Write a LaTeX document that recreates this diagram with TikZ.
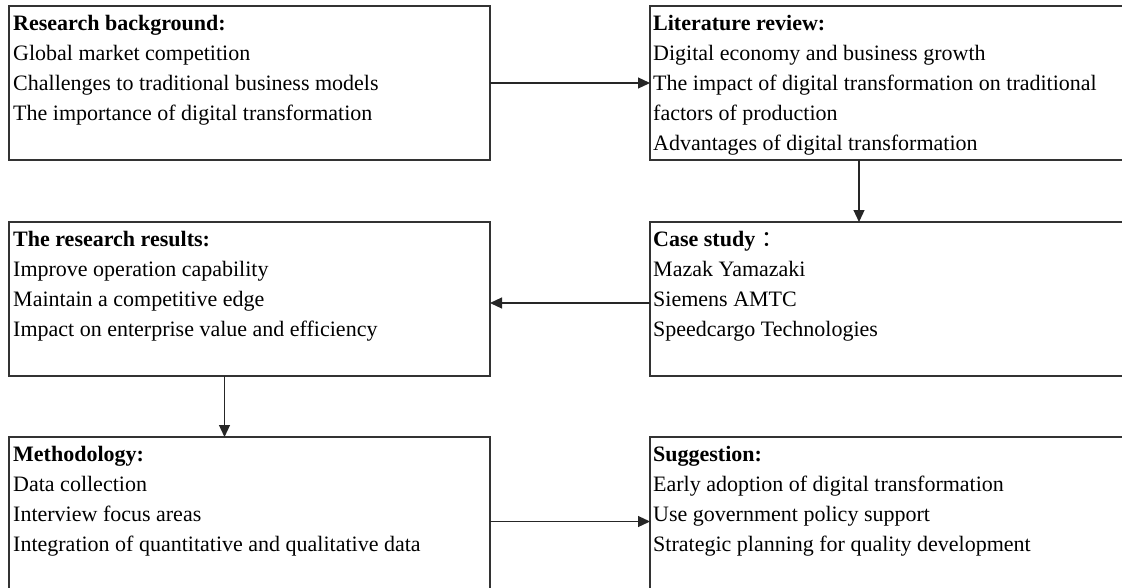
\documentclass[tikz,border=0pt]{standalone}
\usepackage{fontspec}
\setmainfont{Liberation Serif}
\newfontfamily\cjk{Noto Sans CJK SC}
\usetikzlibrary{arrows.meta}
\begin{document}
\begin{tikzpicture}[x=1pt,y=-1pt,
  box/.style={draw=black!80, line width=1.4pt, anchor=north west, inner sep=0pt, outer sep=0pt},
  lbox/.style={box, minimum width=481pt},
  rbox/.style={box, minimum width=480pt},
  txt/.style={anchor=north west, inner sep=0pt, align=left, font=\fontsize{22}{30}\selectfont},
  arr/.style={-{Triangle[length=12pt,width=11pt]}, line width=1.2pt, draw=black!85}]
\useasboundingbox (0,0) rectangle (1122,587);
\fill[white] (0,0) rectangle (1122,587);
% boxes
\node[lbox, minimum height=154pt] (b1) at (9,6) {};
\node[rbox, minimum height=154pt] (b2) at (650,6) {};
\node[lbox, minimum height=154pt] (b3) at (9,222) {};
\node[rbox, minimum height=154pt] (b4) at (650,222) {};
\node[lbox, minimum height=166pt] (b5) at (9,437) {};
\node[rbox, minimum height=166pt] (b6) at (650,437) {};
% texts
\node[txt] (t1) at (13,10) {\rule{0pt}{20pt}\textbf{Research background:}\\Global market competition\\Challenges to traditional business models\\The importance of digital transformation};
\node[txt] (t2) at (653,10) {\rule{0pt}{20pt}\textbf{Literature review:}\\Digital economy and business growth\\The impact of digital transformation on traditional\\factors of production\\Advantages of digital transformation};
\node[txt] (t3) at (13,226) {\rule{0pt}{20pt}\textbf{The research results:}\\Improve operation capability\\Maintain a competitive edge\\Impact on enterprise value and efficiency};
\node[txt] (t4) at (653,226) {\rule{0pt}{20pt}\textbf{Case study}\hspace{6pt}{\cjk ：}\\Mazak Yamazaki\\Siemens AMTC\\Speedcargo Technologies};
\node[txt] (t5) at (13,441) {\rule{0pt}{20pt}\textbf{Methodology:}\\Data collection\\Interview focus areas\\Integration of quantitative and qualitative data};
\node[txt] (t6) at (653,441) {\rule{0pt}{20pt}\textbf{Suggestion:}\\Early adoption of digital transformation\\Use government policy support\\Strategic planning for quality development};
% connectors
\draw[arr] (b1.east) -- (b2.west);
\draw[arr] ([xshift=-31pt]b2.south) -- ([xshift=-31pt]b4.north);
\draw[arr] ([yshift=-4pt]b4.west) -- ([yshift=-4pt]b3.east);
\draw[arr] ([xshift=-25pt]b3.south) -- ([xshift=-25pt]b5.north);
\draw[arr] ([yshift=-1.5pt]b5.east) -- ([yshift=-1.5pt]b6.west);
\end{tikzpicture}
\end{document}
